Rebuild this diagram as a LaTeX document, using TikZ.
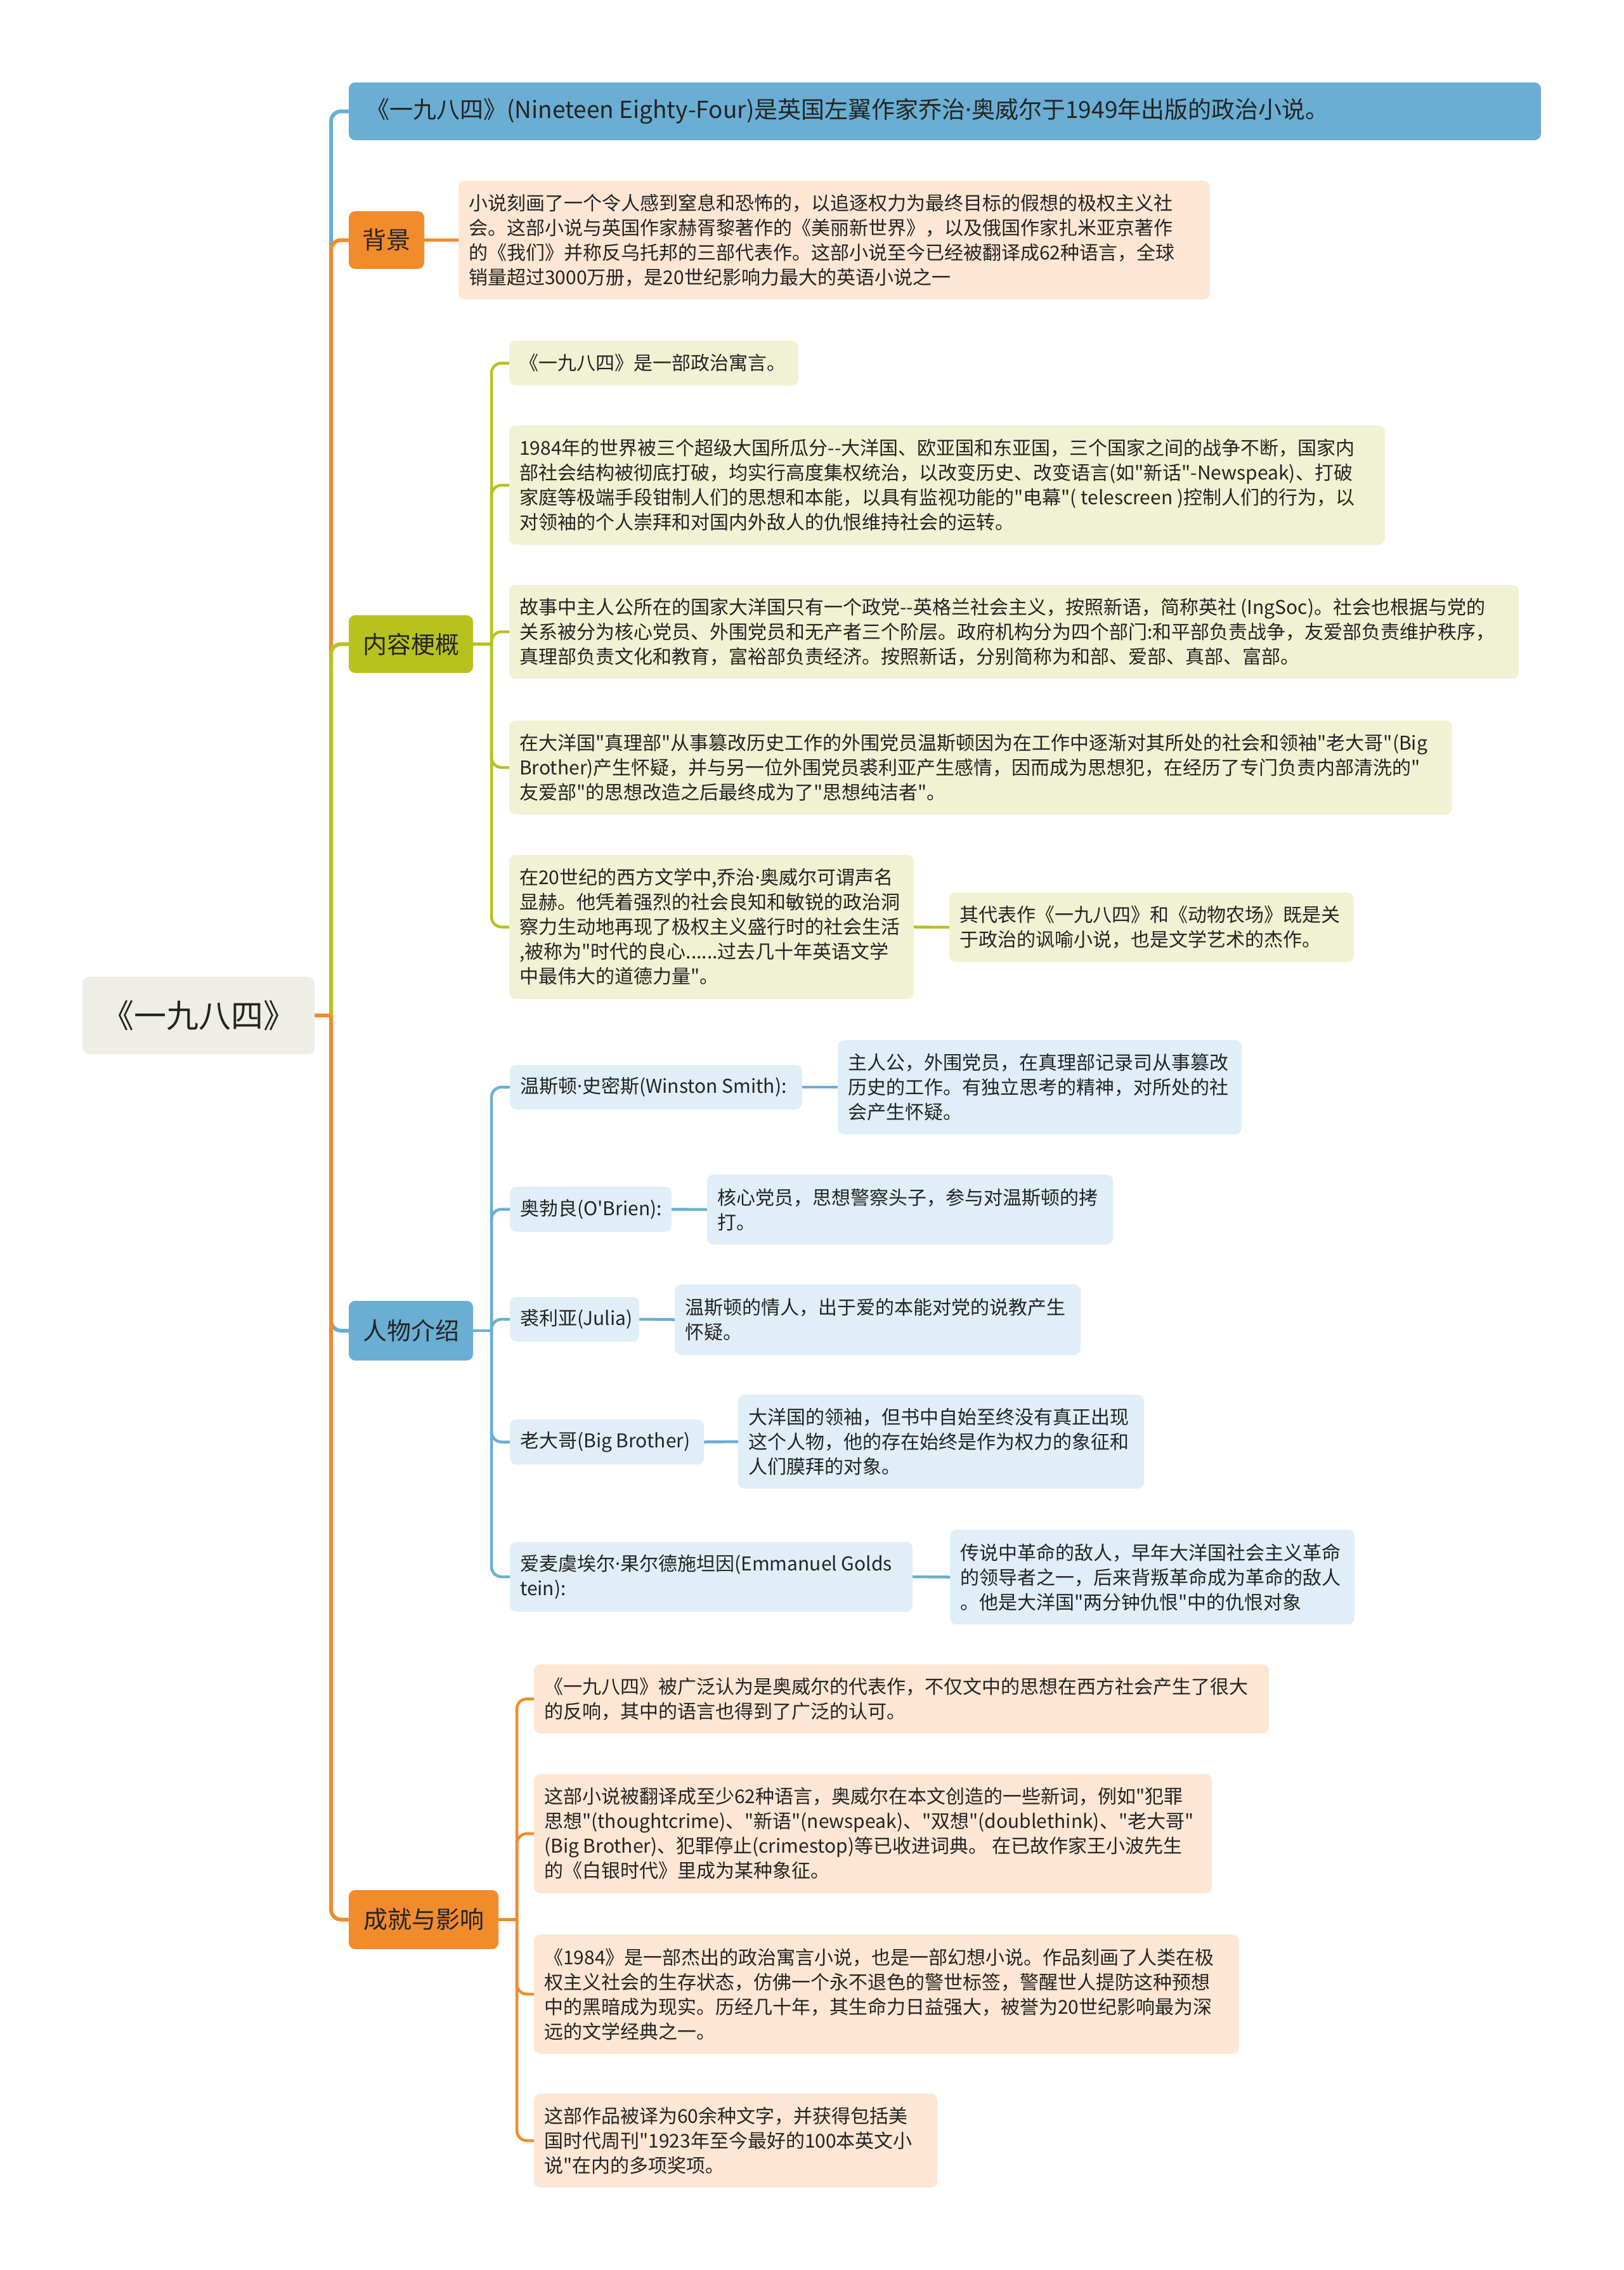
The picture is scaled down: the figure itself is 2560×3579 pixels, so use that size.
\documentclass[tikz,border=0pt]{standalone}
\usepackage{fontspec}
\usetikzlibrary{backgrounds}
\newfontfamily\cjk{Noto Sans CJK SC}
\newfontfamily\latinf{Noto Sans}
\newcommand\md{{\latinf ·}}
\definecolor{cblue}{HTML}{6AAED3}
\definecolor{lblue}{HTML}{DFEEF7}
\definecolor{corange}{HTML}{F18B2C}
\definecolor{lorange}{HTML}{FDE6D3}
\definecolor{colive}{HTML}{B8C21E}
\definecolor{lolive}{HTML}{F0F2D3}
\definecolor{cgray}{HTML}{EEEEE6}
\definecolor{ink}{HTML}{242424}
\newcommand\bx[6]{\node[box,#2,minimum width={(#5-#3)*1pt},minimum height={(#6-#4)*1pt}] (#1) at ({(#3+#5)/2},{(#4+#6)/2}) {};}
\newcommand\tx[2]{\node[txt,anchor=west] at ([xshift=16pt]#1.west) {#2};}
\begin{document}
\begin{tikzpicture}[x=1pt,y=-1pt,
  box/.style={rectangle,rounded corners=10pt,inner sep=0pt,outer sep=0pt,draw=none},
  txt/.style={inner sep=0pt,align=left,text=ink,font=\cjk\fontsize{30}{39}\selectfont},
  bigtxt/.style={inner sep=0pt,align=center,text=ink,font=\cjk\fontsize{38}{46}\selectfont},
  mainline/.style={line width=6pt,rounded corners=16pt},
  subline/.style={line width=4.5pt,rounded corners=16pt}]
\useasboundingbox (0,0) rectangle (2560,3579);
% boxes
\bx{root}{fill=cgray}{130}{1540}{496}{1662}
\bx{top}{fill=cblue}{550}{130}{2430}{221}
\bx{bg}{fill=corange}{550}{333}{669}{424}
\bx{bgd}{fill=lorange}{723}{285}{1908}{472}
\bx{content}{fill=colive}{550}{970}{746}{1061}
\bx{c1}{fill=lolive}{803}{537}{1259}{608}
\bx{c2}{fill=lolive}{803}{671}{2184}{859}
\bx{c3}{fill=lolive}{803}{922}{2395}{1070}
\bx{c4}{fill=lolive}{803}{1136}{2290}{1284}
\bx{c5}{fill=lolive}{803}{1348}{1441}{1575}
\bx{c5a}{fill=lolive}{1497}{1407}{2135}{1517}
\bx{people}{fill=cblue}{550}{2051}{746}{2145}
\bx{p1}{fill=lblue}{804}{1679}{1265}{1749}
\bx{p1d}{fill=lblue}{1321}{1640}{1958}{1788}
\bx{p2}{fill=lblue}{804}{1871}{1059}{1942}
\bx{p2d}{fill=lblue}{1115}{1852}{1755}{1962}
\bx{p3}{fill=lblue}{804}{2045}{1008}{2115}
\bx{p3d}{fill=lblue}{1064}{2025}{1704}{2136}
\bx{p4}{fill=lblue}{804}{2238}{1110}{2309}
\bx{p4d}{fill=lblue}{1164}{2199}{1804}{2347}
\bx{p5}{fill=lblue}{804}{2431}{1439}{2541}
\bx{p5d}{fill=lblue}{1498}{2412}{2136}{2561}
\bx{ach}{fill=corange}{550}{2980}{786}{3073}
\bx{a1}{fill=lorange}{842}{2624}{2001}{2733}
\bx{a2}{fill=lorange}{842}{2797}{1911}{2985}
\bx{a3}{fill=lorange}{842}{3050}{1954}{3238}
\bx{a4}{fill=lorange}{842}{3301}{1478}{3449}
% hubs
\coordinate (h0) at (522,1601);
\coordinate (h1) at (775,1015.5);
\coordinate (h2) at (775,2098);
\coordinate (h3) at (815,3026.5);
% connectors behind boxes
\begin{scope}[on background layer]
\fill[white] (0,0) rectangle (2560,3579);
\draw[mainline,cblue] (h0) |- (top.west);
\draw[mainline,corange] (h0) |- (bg.west);
\draw[mainline,colive] (h0) |- (content.west);
\draw[mainline,cblue] (h0) |- (people.west);
\draw[mainline,corange] (h0) |- (ach.west);
\draw[mainline,corange] (root.east) -- (h0);
\draw[subline,corange] (bg.east) -- (bgd.west);
\draw[subline,colive] (content.east) -- (h1);
\foreach \n in {c1,c2,c3,c4,c5} {\draw[subline,colive] (h1) |- (\n.west);}
\draw[subline,colive] (c5.east) -- (c5a.west);
\draw[subline,cblue] (people.east) -- (h2);
\foreach \n in {p1,p2,p3,p4,p5} {\draw[subline,cblue] (h2) |- (\n.west);}
\foreach \n in {p1,p2,p3,p4,p5} {\draw[subline,cblue] (\n.east) -- (\n d.west);}
\draw[subline,corange] (ach.east) -- (h3);
\foreach \n in {a1,a2,a3,a4} {\draw[subline,corange] (h3) |- (\n.west);}
\end{scope}
% texts
\node[bigtxt,font=\cjk\fontsize{51}{60}\selectfont] at (root.center) {《一九八四》};
\node[txt,anchor=west,font=\cjk\fontsize{37}{44}\selectfont] at ([xshift=27pt]top.west) {《一九八四》(Nineteen Eighty-Four)是英国左翼作家乔治\md 奥威尔于1949年出版的政治小说。};
\node[bigtxt] at (bg.center) {背景};
\node[bigtxt] at (content.center) {内容梗概};
\node[bigtxt] at (people.center) {人物介绍};
\node[bigtxt] at (ach.center) {成就与影响};
\tx{bgd}{小说刻画了一个令人感到窒息和恐怖的，以追逐权力为最终目标的假想的极权主义社\\会。这部小说与英国作家赫胥黎著作的《美丽新世界》，以及俄国作家扎米亚京著作\\的《我们》并称反乌托邦的三部代表作。这部小说至今已经被翻译成62种语言，全球\\销量超过3000万册，是20世纪影响力最大的英语小说之一}
\tx{c1}{《一九八四》是一部政治寓言。}
\tx{c2}{1984年的世界被三个超级大国所瓜分--大洋国、欧亚国和东亚国，三个国家之间的战争不断，国家内\\部社会结构被彻底打破，均实行高度集权统治，以改变历史、改变语言(如"新话"-Newspeak)、打破\\家庭等极端手段钳制人们的思想和本能，以具有监视功能的"电幕"( telescreen )控制人们的行为，以\\对领袖的个人崇拜和对国内外敌人的仇恨维持社会的运转。}
\tx{c3}{故事中主人公所在的国家大洋国只有一个政党--英格兰社会主义，按照新语，简称英社 (IngSoc)。社会也根据与党的\\关系被分为核心党员、外围党员和无产者三个阶层。政府机构分为四个部门:和平部负责战争，友爱部负责维护秩序，\\真理部负责文化和教育，富裕部负责经济。按照新话，分别简称为和部、爱部、真部、富部。}
\tx{c4}{在大洋国"真理部"从事篡改历史工作的外围党员温斯顿因为在工作中逐渐对其所处的社会和领袖"老大哥"(Big\\Brother)产生怀疑，并与另一位外围党员裘利亚产生感情，因而成为思想犯，在经历了专门负责内部清洗的"\\友爱部"的思想改造之后最终成为了"思想纯洁者"。}
\tx{c5}{在20世纪的西方文学中,乔治\md 奥威尔可谓声名\\显赫。他凭着强烈的社会良知和敏锐的政治洞\\察力生动地再现了极权主义盛行时的社会生活\\,被称为"时代的良心......过去几十年英语文学\\中最伟大的道德力量"。}
\tx{c5a}{其代表作《一九八四》和《动物农场》既是关\\于政治的讽喻小说，也是文学艺术的杰作。}
\tx{p1}{温斯顿\md 史密斯(Winston Smith):}
\tx{p1d}{主人公，外围党员，在真理部记录司从事篡改\\历史的工作。有独立思考的精神，对所处的社\\会产生怀疑。}
\tx{p2}{奥勃良(O'Brien):}
\tx{p2d}{核心党员，思想警察头子，参与对温斯顿的拷\\打。}
\tx{p3}{裘利亚(Julia)}
\tx{p3d}{温斯顿的情人，出于爱的本能对党的说教产生\\怀疑。}
\tx{p4}{老大哥(Big Brother)}
\tx{p4d}{大洋国的领袖，但书中自始至终没有真正出现\\这个人物，他的存在始终是作为权力的象征和\\人们膜拜的对象。}
\tx{p5}{爱麦虞埃尔\md 果尔德施坦因(Emmanuel Golds\\tein):}
\tx{p5d}{传说中革命的敌人，早年大洋国社会主义革命\\的领导者之一，后来背叛革命成为革命的敌人\\。他是大洋国"两分钟仇恨"中的仇恨对象}
\tx{a1}{《一九八四》被广泛认为是奥威尔的代表作，不仅文中的思想在西方社会产生了很大\\的反响，其中的语言也得到了广泛的认可。}
\tx{a2}{这部小说被翻译成至少62种语言，奥威尔在本文创造的一些新词，例如"犯罪\\思想"(thoughtcrime)、"新语"(newspeak)、"双想"(doublethink)、"老大哥"\\(Big Brother)、犯罪停止(crimestop)等已收进词典。 在已故作家王小波先生\\的《白银时代》里成为某种象征。}
\tx{a3}{《1984》是一部杰出的政治寓言小说，也是一部幻想小说。作品刻画了人类在极\\权主义社会的生存状态，仿佛一个永不退色的警世标签，警醒世人提防这种预想\\中的黑暗成为现实。历经几十年，其生命力日益强大，被誉为20世纪影响最为深\\远的文学经典之一。}
\tx{a4}{这部作品被译为60余种文字，并获得包括美\\国时代周刊"1923年至今最好的100本英文小\\说"在内的多项奖项。}
\end{tikzpicture}
\end{document}
